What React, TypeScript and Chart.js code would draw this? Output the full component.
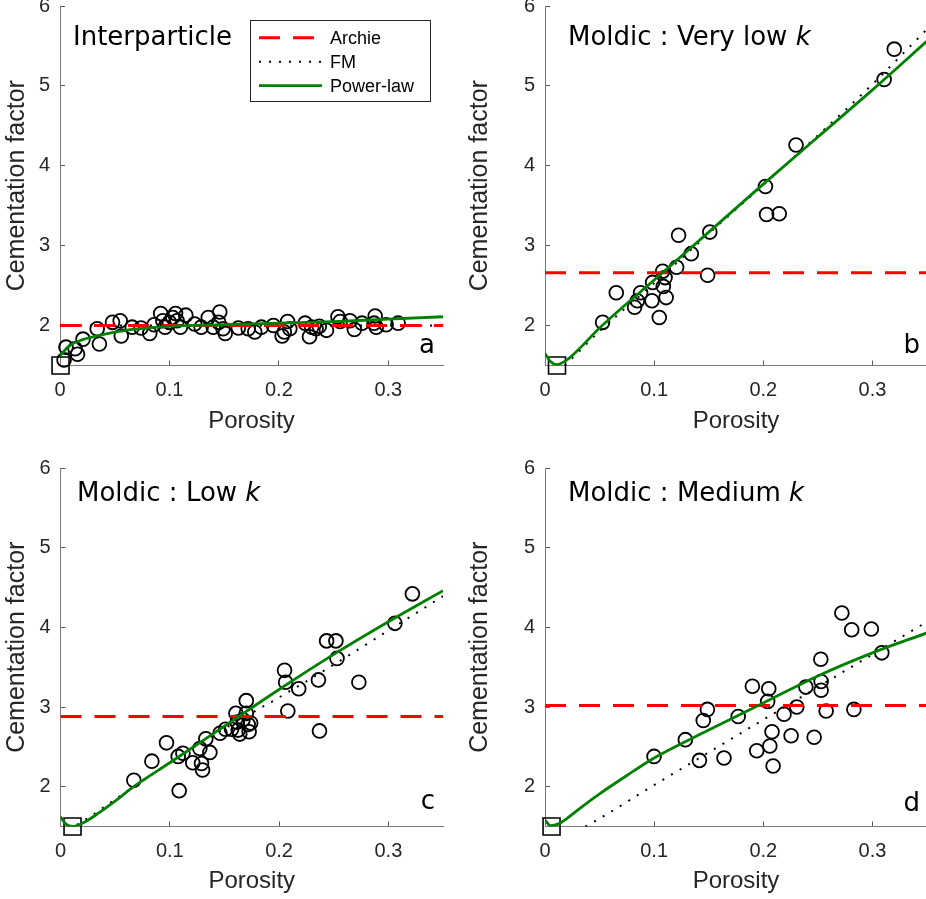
import React, { useEffect, useRef } from 'react';
import { Chart, registerables } from 'chart.js';

Chart.register(...registerables);

// ---------- shared axis data ----------
const xTicks = [0, 0.1, 0.2, 0.3];
const xTickLabels = ['0', '0.1', '0.2', '0.3'];
const yTicks = [2, 3, 4, 5, 6];
const yTickLabels = ['2', '3', '4', '5', '6'];
const xLabel = 'Porosity';
const yLabel = 'Cementation factor';
const legendLabels = ['Archie', 'FM', 'Power-law'];

// ---------- panel a : Interparticle ----------
const phiA = [0.0037, 0.0055, 0.0138, 0.016, 0.021, 0.034, 0.036, 0.048, 0.055, 0.056, 0.066, 0.074, 0.082, 0.086, 0.092, 0.094, 0.096, 0.1, 0.103, 0.1056, 0.107, 0.11, 0.115, 0.123, 0.129, 0.1355, 0.14, 0.146, 0.145, 0.149, 0.151, 0.163, 0.172, 0.178, 0.184, 0.195, 0.203, 0.205, 0.208, 0.21, 0.224, 0.228, 0.23, 0.234, 0.237, 0.2435, 0.254, 0.256, 0.265, 0.269, 0.276, 0.288, 0.287, 0.289, 0.298, 0.309];
const mA = [1.57, 1.73, 1.71, 1.64, 1.83, 1.96, 1.77, 2.04, 2.06, 1.87, 1.98, 1.97, 1.9, 2.01, 2.15, 2.06, 1.98, 2.04, 2.1, 2.15, 2.06, 1.98, 2.13, 2.02, 1.98, 2.1, 1.98, 2.17, 2.04, 1.96, 1.9, 1.97, 1.96, 1.92, 1.98, 2.0, 1.87, 1.92, 2.05, 1.96, 2.03, 1.86, 1.98, 1.96, 1.99, 1.94, 2.11, 2.05, 2.06, 1.95, 2.03, 2.12, 2.03, 1.98, 2.01, 2.03];
const archieA = 2.0;
const fmXA = [0, 0.35];
const fmYA = [2.0, 2.0];
const plXA = [0, 0.005, 0.01, 0.02, 0.04, 0.06, 0.08, 0.1, 0.15, 0.2, 0.25, 0.3, 0.35];
const plYA = [1.62, 1.7, 1.76, 1.82, 1.89, 1.94, 1.97, 1.99, 2.01, 2.03, 2.05, 2.08, 2.11];
const refXA = 0.0005;

// ---------- panel b : Moldic, very low k ----------
const phiB = [0.0528, 0.0653, 0.0821, 0.0846, 0.0876, 0.098, 0.0986, 0.1047, 0.1078, 0.1084, 0.11, 0.111, 0.1206, 0.1224, 0.134, 0.149, 0.151, 0.202, 0.203, 0.2146, 0.23, 0.3107, 0.32];
const mB = [2.04, 2.41, 2.23, 2.31, 2.41, 2.31, 2.54, 2.1, 2.68, 2.49, 2.6, 2.35, 2.73, 3.13, 2.9, 2.63, 3.17, 3.74, 3.39, 3.4, 4.26, 5.08, 5.46];
const archieB = 2.66;
const fmXB = [0.018, 0.03, 0.05, 0.1, 0.15, 0.2, 0.25, 0.3, 0.35];
const fmYB = [1.5, 1.66, 1.93, 2.53, 3.15, 3.76, 4.38, 5.02, 5.71];
const plXB = [0, 0.005, 0.011, 0.02, 0.03, 0.05, 0.1, 0.15, 0.2, 0.25, 0.3, 0.35];
const plYB = [1.65, 1.55, 1.51, 1.57, 1.69, 1.97, 2.57, 3.17, 3.77, 4.36, 4.95, 5.56];
const refXB = 0.011;

// ---------- panel c : Moldic, low k ----------
const phiC = [0.0671, 0.0836, 0.097, 0.1086, 0.1077, 0.112, 0.121, 0.1275, 0.129, 0.13, 0.133, 0.1367, 0.146, 0.151, 0.1565, 0.1605, 0.1617, 0.1626, 0.164, 0.167, 0.17, 0.17, 0.1717, 0.1726, 0.174, 0.205, 0.206, 0.208, 0.218, 0.236, 0.237, 0.2435, 0.252, 0.253, 0.273, 0.306, 0.322];
const mC = [2.08, 2.32, 2.55, 1.95, 2.38, 2.42, 2.3, 2.48, 2.29, 2.21, 2.6, 2.43, 2.67, 2.72, 2.72, 2.92, 2.81, 2.71, 2.66, 2.84, 3.08, 2.92, 2.78, 2.69, 2.8, 3.46, 3.31, 2.95, 3.23, 3.34, 2.7, 3.83, 3.83, 3.61, 3.31, 4.05, 4.42];
const archieC = 2.88;
const fmXC = [0.015, 0.03, 0.05, 0.1, 0.15, 0.2, 0.25, 0.3, 0.35];
const fmYC = [1.52, 1.65, 1.84, 2.3, 2.73, 3.12, 3.53, 3.96, 4.39];
const plXC = [0, 0.005, 0.011, 0.02, 0.035, 0.05, 0.067, 0.1, 0.15, 0.2, 0.25, 0.3, 0.35];
const plYC = [1.62, 1.53, 1.5, 1.54, 1.67, 1.82, 2.0, 2.3, 2.76, 3.22, 3.66, 4.07, 4.46];
const refXC = 0.011;

// ---------- panel d : Moldic, medium k ----------
const phiD = [0.0999, 0.1286, 0.1415, 0.145, 0.1488, 0.164, 0.177, 0.19, 0.194, 0.205, 0.204, 0.206, 0.208, 0.209, 0.219, 0.2255, 0.2307, 0.239, 0.2466, 0.2527, 0.253, 0.253, 0.2576, 0.272, 0.281, 0.283, 0.299, 0.3086];
const mD = [2.38, 2.59, 2.33, 2.83, 2.97, 2.36, 2.88, 3.26, 2.45, 3.23, 3.07, 2.51, 2.69, 2.26, 2.91, 2.64, 3.0, 3.25, 2.62, 3.6, 3.32, 3.21, 2.95, 4.18, 3.97, 2.97, 3.98, 3.68];
const archieD = 3.02;
const fmXD = [0.037, 0.05, 0.1, 0.15, 0.2, 0.25, 0.3, 0.35];
const fmYD = [1.5, 1.6, 2.02, 2.43, 2.84, 3.25, 3.66, 4.07];
const plXD = [0, 0.005, 0.012, 0.02, 0.035, 0.05, 0.075, 0.1, 0.15, 0.2, 0.25, 0.3, 0.35];
const plYD = [1.58, 1.51, 1.53, 1.6, 1.76, 1.91, 2.14, 2.36, 2.71, 3.05, 3.39, 3.68, 3.93];
const refXD = 0.006;

const refY = 1.5;

// ---------- panel layout (pixels, page coordinates) ----------
const panels = [
  { id: 'a', phi: phiA, m: mA, archie: archieA, fmX: fmXA, fmY: fmYA, plX: plXA, plY: plYA, refX: refXA,
    title: 'Interparticle', titleItalic: '', letter: 'a',
    canvas: { l: 0, t: 0, w: 463, h: 449 }, area: { l: 60, t: 6, r: 443, b: 365.5 },
    titlePos: { x: 73, y: 45 }, letterPos: { x: 435, y: 353 }, xTitlePadBottom: 13.6, legend: true },
  { id: 'b', phi: phiB, m: mB, archie: archieB, fmX: fmXB, fmY: fmYB, plX: plXB, plY: plYB, refX: refXB,
    title: 'Moldic : Very low ', titleItalic: 'k', letter: 'b',
    canvas: { l: 463, t: 0, w: 465, h: 449 }, area: { l: 545, t: 6, r: 927, b: 365.5 },
    titlePos: { x: 568, y: 45 }, letterPos: { x: 920, y: 353 }, xTitlePadBottom: 13.6, legend: false },
  { id: 'c', phi: phiC, m: mC, archie: archieC, fmX: fmXC, fmY: fmYC, plX: plXC, plY: plYC, refX: refXC,
    title: 'Moldic : Low ', titleItalic: 'k', letter: 'c',
    canvas: { l: 0, t: 449, w: 463, h: 450 }, area: { l: 60.5, t: 468, r: 443, b: 826.5 },
    titlePos: { x: 77, y: 500.5 }, letterPos: { x: 435, y: 809 }, xTitlePadBottom: 3.6, legend: false },
  { id: 'd', phi: phiD, m: mD, archie: archieD, fmX: fmXD, fmY: fmYD, plX: plXD, plY: plYD, refX: refXD,
    title: 'Moldic : Medium ', titleItalic: 'k', letter: 'd',
    canvas: { l: 463, t: 449, w: 465, h: 450 }, area: { l: 545, t: 468, r: 927, b: 826.5 },
    titlePos: { x: 568, y: 500.5 }, letterPos: { x: 920, y: 811 }, xTitlePadBottom: 3.6, legend: false },
];

const AXIS_TEXT = '#262626';
const TICK_FONT = { family: '"Liberation Sans", Arial, sans-serif', size: 20 };
const XLABEL_FONT = { family: '"Liberation Sans", Arial, sans-serif', size: 24 };
const YLABEL_FONT = { family: '"Liberation Sans", Arial, sans-serif', size: 25 };

const pts = (xs: number[], ys: number[]) => xs.map((x, i) => ({ x, y: ys[i] }));

function makeAnnotPlugin(p: any) {
  return {
    id: 'annot_' + p.id,
    afterDraw(chart: any) {
      const ctx = chart.ctx;
      const ox = p.canvas.l;
      const oy = p.canvas.t;
      ctx.save();
      // panel title
      ctx.fillStyle = '#000';
      ctx.textBaseline = 'alphabetic';
      ctx.textAlign = 'left';
      ctx.font = '26px "DejaVu Sans"';
      const tx = p.titlePos.x - ox;
      const ty = p.titlePos.y - oy;
      ctx.fillText(p.title, tx, ty);
      if (p.titleItalic) {
        const w = ctx.measureText(p.title).width;
        ctx.font = 'italic 26px "DejaVu Sans"';
        ctx.fillText(p.titleItalic, tx + w, ty);
      }
      // corner letter
      ctx.font = '26px "DejaVu Sans"';
      ctx.textAlign = 'right';
      ctx.fillText(p.letter, p.letterPos.x - ox, p.letterPos.y - oy);

      // legend box
      if (p.legend) {
        const bx = 250.5 - ox, by = 20.5 - oy, bw = 180, bh = 81;
        ctx.fillStyle = '#fff';
        ctx.fillRect(bx, by, bw, bh);
        ctx.strokeStyle = '#262626';
        ctx.lineWidth = 1;
        ctx.setLineDash([]);
        ctx.strokeRect(bx, by, bw, bh);
        const rows = [37.7, 61.7, 85.7];
        legendLabels.forEach((lab, i) => {
          const ds = chart.data.datasets.find((d: any) => d.label === lab);
          const y = rows[i] - oy;
          ctx.save();
          ctx.strokeStyle = ds.borderColor;
          ctx.lineWidth = ds.borderWidth;
          ctx.setLineDash(ds.borderDash || []);
          ctx.beginPath();
          ctx.moveTo(259 - ox, y);
          ctx.lineTo(322 - ox, y);
          ctx.stroke();
          ctx.restore();
          ctx.fillStyle = '#000';
          ctx.font = '18px "Liberation Sans", Arial';
          ctx.textAlign = 'left';
          ctx.textBaseline = 'middle';
          ctx.fillText(lab, 330 - ox, y + 1);
        });
      }
      ctx.restore();
    },
  };
}

function Panel({ p }: { p: any }) {
  const ref = useRef<HTMLCanvasElement | null>(null);
  useEffect(() => {
    if (!ref.current) return;
    const yAxisW = p.area.l - p.canvas.l;
    const xAxisH = p.canvas.t + p.canvas.h - p.area.b;
    const padTop = p.area.t - p.canvas.t;
    const padRight = p.canvas.l + p.canvas.w - p.area.r;
    const chart = new Chart(ref.current, {
      type: 'scatter',
      data: {
        datasets: [
          {
            label: 'Power-law', data: pts(p.plX, p.plY), showLine: true,
            borderColor: '#008000', borderWidth: 2.8, pointRadius: 0,
            cubicInterpolationMode: 'monotone', fill: false, order: 0,
          },
          {
            label: 'Archie', data: [{ x: 0, y: p.archie }, { x: 0.35, y: p.archie }], showLine: true,
            borderColor: '#ff0000', borderWidth: 3, borderDash: [21, 13], pointRadius: 0, order: 1,
          },
          {
            label: 'FM', data: pts(p.fmX, p.fmY), showLine: true,
            borderColor: '#000000', borderWidth: 2, borderDash: [2, 8], pointRadius: 0,
            cubicInterpolationMode: 'monotone', order: 2,
          },
          {
            label: 'Data', data: pts(p.phi, p.m), showLine: false,
            pointStyle: 'circle', pointRadius: 6.9, borderColor: '#000', borderWidth: 1.8,
            backgroundColor: 'rgba(0,0,0,0)', clip: false, order: 3,
          },
          {
            label: 'Reference', data: [{ x: p.refX, y: refY }], showLine: false,
            pointStyle: 'rect', pointRadius: 12, borderColor: '#000', borderWidth: 1.6,
            backgroundColor: 'rgba(0,0,0,0)', clip: false, order: 4,
          },
        ],
      } as any,
      options: {
        responsive: false,
        maintainAspectRatio: false,
        animation: false,
        devicePixelRatio: 1,
        events: [],
        layout: { autoPadding: false, padding: { left: 0, top: padTop, right: padRight, bottom: 0 } },
        plugins: { legend: { display: false }, tooltip: { enabled: false }, title: { display: false } },
        scales: {
          x: {
            type: 'linear', position: 'bottom', min: 0, max: 0.35,
            afterBuildTicks: (s: any) => { s.ticks = xTicks.map((v) => ({ value: v })); },
            afterFit: (s: any) => { s.height = xAxisH; s.paddingLeft = 0; s.paddingRight = 0; },
            ticks: {
              autoSkip: false, maxRotation: 0, minRotation: 0, padding: 17.5, color: AXIS_TEXT, font: TICK_FONT,
              callback: (_v: any, i: number) => xTickLabels[i],
            },
            grid: { drawOnChartArea: false, drawTicks: true, tickLength: -5, color: '#555', lineWidth: 1 },
            border: { display: true, color: '#7a7a7a', width: 1 },
            title: { display: true, text: xLabel, color: AXIS_TEXT, font: XLABEL_FONT, padding: { top: 0, bottom: p.xTitlePadBottom } },
          },
          y: {
            type: 'linear', position: 'left', min: 1.5, max: 6,
            afterBuildTicks: (s: any) => { s.ticks = yTicks.map((v) => ({ value: v })); },
            afterFit: (s: any) => { s.width = yAxisW; s.paddingTop = 0; s.paddingBottom = 0; },
            ticks: {
              autoSkip: false, padding: 15, color: AXIS_TEXT, font: TICK_FONT,
              callback: (_v: any, i: number) => yTickLabels[i],
            },
            grid: { drawOnChartArea: false, drawTicks: true, tickLength: -5, color: '#555', lineWidth: 1 },
            border: { display: true, color: '#7a7a7a', width: 1 },
            title: { display: true, text: yLabel, color: AXIS_TEXT, font: YLABEL_FONT, padding: { top: 2.5, bottom: 0 } },
          },
        },
      } as any,
      plugins: [makeAnnotPlugin(p)],
    });
    return () => chart.destroy();
  }, [p]);
  return (
    <canvas
      ref={ref}
      width={p.canvas.w}
      height={p.canvas.h}
      style={{ position: 'absolute', left: p.canvas.l, top: p.canvas.t, width: p.canvas.w, height: p.canvas.h, display: 'block' }}
    />
  );
}

export default function App() {
  return (
    <div style={{ position: 'fixed', left: 0, top: 0, width: 926, height: 899, overflow: 'hidden', background: '#fff' }}>
      {panels.map((p) => (
        <Panel key={p.id} p={p} />
      ))}
    </div>
  );
}
